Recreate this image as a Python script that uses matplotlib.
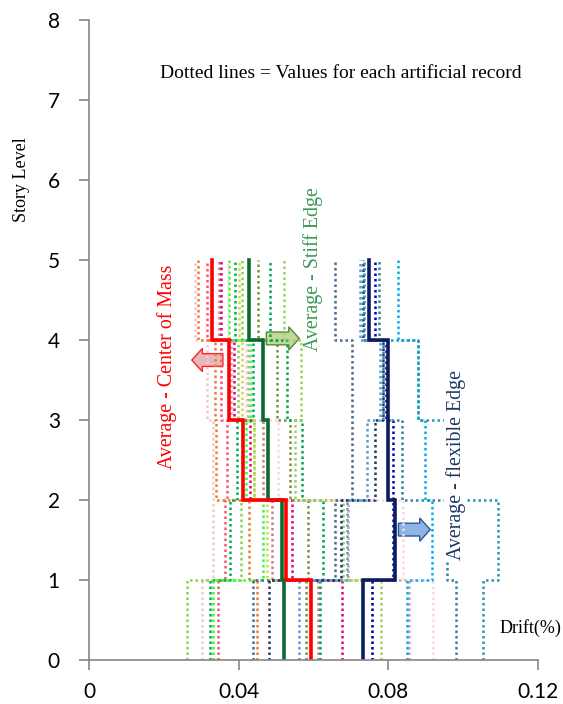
import matplotlib

matplotlib.use("Agg", force=True)

import matplotlib.pyplot as plt
import numpy as np
from matplotlib.patches import FancyArrow

# story segments: 0-1, 1-2, 2-3, 3-4, 4-5 (drift %)
levels = [0, 1, 2, 3, 4, 5]

cm_records = {
    "#F4C7D0": [0.0302, 0.0332, 0.0332, 0.0316, 0.0284],
    "#FF5370": [0.0345, 0.0364, 0.0369, 0.0353, 0.0316],
    "#ED7D31": [0.0450, 0.0428, 0.0340, 0.0337, 0.0292],
    "#C0808A": [0.0613, 0.0490, 0.0466, 0.0423, 0.0348],
    "#E6007E": [0.0677, 0.0543, 0.0431, 0.0388, 0.0353],
    "#D4A0A8": [0.0854, 0.0693, 0.0410, 0.0380, 0.0330],
    "#F8D8DE": [0.0920, 0.0840, 0.0506, 0.0420, 0.0372],
}
stiff_records = {
    "#92D050": [0.0262, 0.0407, 0.0441, 0.0399, 0.0409],
    "#00B050": [0.0324, 0.0377, 0.0396, 0.0439, 0.0391],
    "#33FF33": [0.0332, 0.0466, 0.0420, 0.0430, 0.0375],
    "#77933C": [0.0580, 0.0586, 0.0538, 0.0503, 0.0452],
    "#00A650": [0.0618, 0.0626, 0.0570, 0.0530, 0.0484],
    "#C5E045": [0.0757, 0.0476, 0.0440, 0.0410, 0.0400],
    "#9BD35A": [0.0780, 0.0680, 0.0550, 0.0567, 0.0522],
}
flex_records = {
    "#4A6A8F": [0.0439, 0.0658, 0.0704, 0.0704, 0.0658],
    "#1F3864": [0.0482, 0.0674, 0.0765, 0.0787, 0.0733],
    "#5B9BD5": [0.0562, 0.0690, 0.0744, 0.0779, 0.0725],
    "#0000CC": [0.0757, 0.0813, 0.0813, 0.0795, 0.0765],
    "#31859C": [0.0982, 0.0958, 0.0837, 0.0787, 0.0776],
    "#00B0F0": [0.0850, 0.0918, 0.0899, 0.0878, 0.0827],
    "#2E94B8": [0.1054, 0.1092, 0.0958, 0.0878, 0.0735],
}

avg_cm = [0.0594, 0.0527, 0.0412, 0.0375, 0.0329]
avg_stiff = [0.0522, 0.0516, 0.0479, 0.0466, 0.0428]
avg_flex = [0.0733, 0.0819, 0.0800, 0.0800, 0.0749]

x_ticks = [0, 0.04, 0.08, 0.12]
x_tick_labels = ["0", "0.04", "0.08", "0.12"]
y_ticks = [0, 1, 2, 3, 4, 5, 6, 7, 8]


def step_profile(values):
    """Vertical step profile: constant drift within each story."""
    xs = np.repeat(values, 2)
    ys = np.repeat(levels, 2)[1:-1]
    return xs, ys


fig = plt.figure(figsize=(5.63, 7.04), dpi=100)
ax = fig.add_axes([0.158, 0.0625, 0.7976, 0.909])

for group in (cm_records, stiff_records, flex_records):
    for color, vals in group.items():
        xs, ys = step_profile(vals)
        ax.plot(xs, ys, color=color, linewidth=1.8, linestyle=(0, (1, 1.2)))

for vals, color in ((avg_flex, "#0B1F5E"), (avg_stiff, "#0B6B2E"), (avg_cm, "#FF0000")):
    xs, ys = step_profile(vals)
    ax.plot(xs, ys, color=color, linewidth=2.6, solid_joinstyle="miter")

serif = ["Liberation Serif", "DejaVu Serif"]
ax.text(0.0672, 7.33, "Dotted lines = Values for each artificial record",
        ha="center", va="center", fontsize=14, family=serif)
ax.text(0.0209, 3.66, "Average - Center of Mass", rotation=90, ha="center",
        va="center", color="#FF0000", fontsize=14.3, family=serif)
ax.text(0.0599, 4.89, "Average - Stiff Edge", rotation=90, ha="center",
        va="center", color="#3A9A55", fontsize=14.3, family=serif)
ax.text(0.0980, 2.44, "Average - flexible Edge", rotation=90, ha="center",
        va="center", color="#1F3864", fontsize=14.3, family=serif,
        bbox=dict(facecolor="white", edgecolor="none", pad=1))
ax.text(0.1180, 0.40, "Drift(%)", ha="center", va="center", fontsize=13,
        family=serif)

arrow_kw = dict(width=0.16, head_width=0.29, head_length=0.0028,
                length_includes_head=True, linewidth=1.0)
ax.add_patch(FancyArrow(0.0358, 3.75, -0.0083, 0, facecolor="#E6B8B7",
                        edgecolor="#FF2020", **arrow_kw))
ax.add_patch(FancyArrow(0.0474, 4.02, 0.0088, 0, facecolor="#C3D69B",
                        edgecolor="#4F8C3B", **arrow_kw))
ax.add_patch(FancyArrow(0.0827, 1.63, 0.0085, 0, facecolor="#8EB4E3",
                        edgecolor="#2F5597", **arrow_kw))

ax.set_xlim(0, 0.12)
ax.set_ylim(0, 8)
ax.set_xticks(x_ticks, x_tick_labels)
ax.set_yticks(y_ticks)
ax.set_ylabel("Story Level", family=serif, fontsize=13)
ax.yaxis.set_label_coords(-0.132, 0.75)
for side in ("top", "right"):
    ax.spines[side].set_visible(False)
for side in ("left", "bottom"):
    ax.spines[side].set_color("#868686")
    ax.spines[side].set_linewidth(1.2)
ax.tick_params(axis="both", direction="out", length=7, width=1.2,
               color="#868686", labelsize=15)
ax.tick_params(axis="y", pad=14)
ax.tick_params(axis="x", pad=9)
for lab in ax.get_xticklabels() + ax.get_yticklabels():
    lab.set_family(["Lato", "DejaVu Sans"])

fig.savefig("out.png", dpi=100)
